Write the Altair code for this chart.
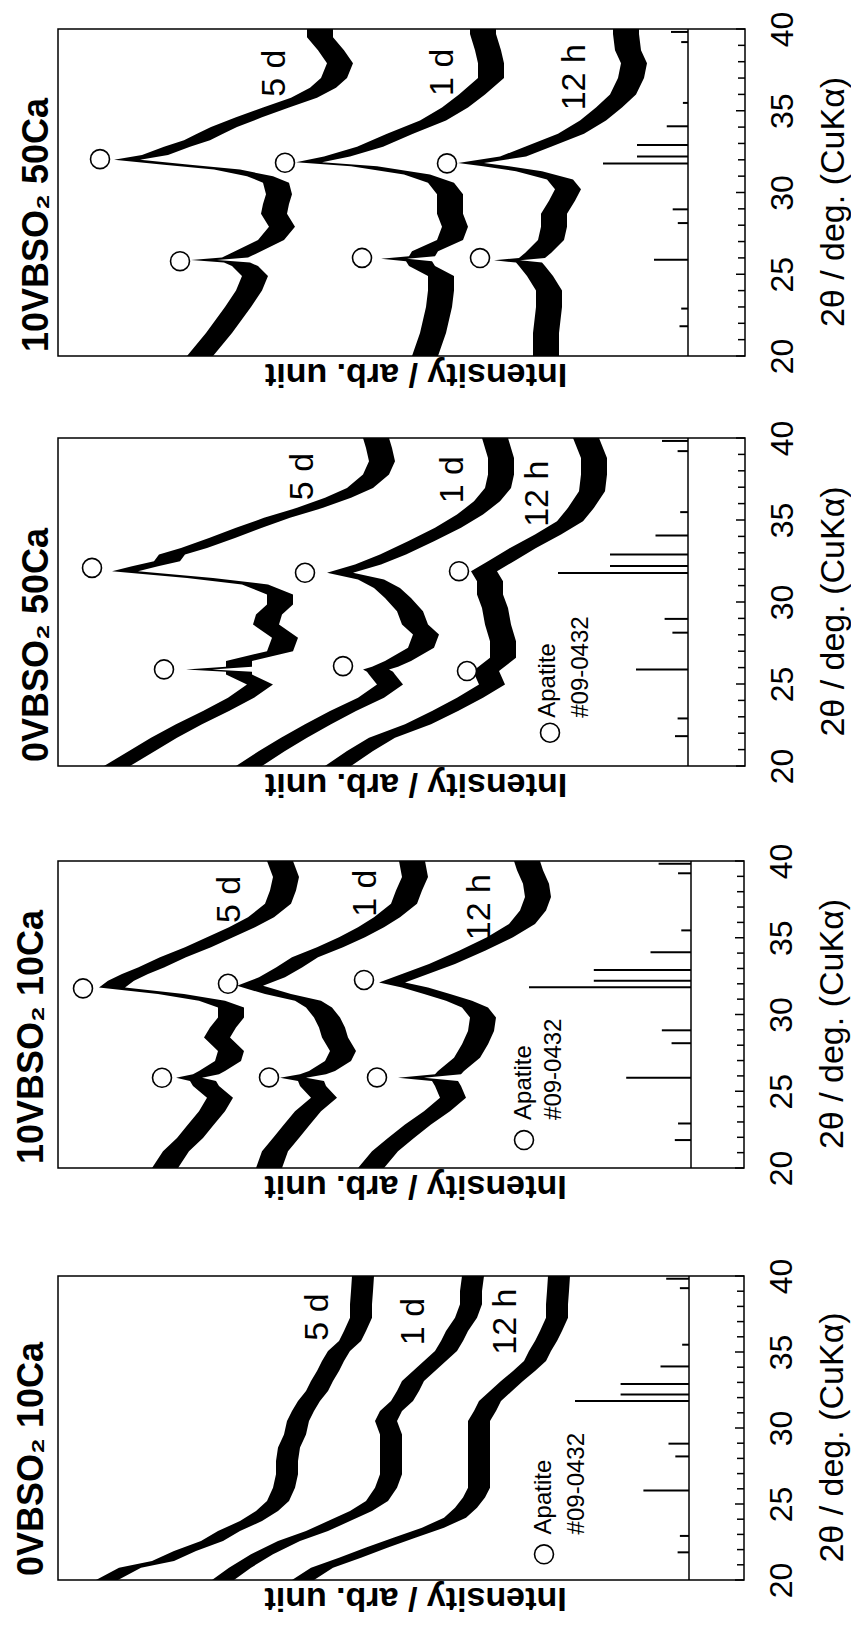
import altair as alt
import pandas as pd

FONT = "Liberation Sans"

# ---------------- panel texts (top to bottom in the rotated figure) ----------------
TITLES = ["10VBSO\u2082 50Ca", "0VBSO\u2082 50Ca", "10VBSO\u2082 10Ca", "0VBSO\u2082 10Ca"]
SERIES = ["5 d", "1 d", "12 h"]
Y_TITLE = "2\u03b8 / deg. (CuK\u03b1)"
X_TITLE = "Intensity / arb. unit"
TICK_LABELS = [20, 25, 30, 35, 40]

# ---------------- Apatite JCPDS #09-0432 reference lines ----------------
STICK_POS = [21.82, 22.90, 25.88, 28.13, 28.97, 31.77, 32.20, 32.90, 34.05, 35.48, 39.20, 39.82]
STICK_REL = [10, 8, 40, 12, 18, 100, 60, 60, 25, 6, 8, 20]
STICK_FULL = [85, 130, 162, 114]   # intensity of the 100 % line in each panel
STICK_BASE = [57, 57, 53, 55]      # intensity of the reference-pattern baseline
INT_MAX = [687, 687, 686, 686]     # intensity range of each panel (arb. unit)
NOISE = [13, 13, 13, 11]           # half amplitude of the noise band

# ---------------- panel 1 : 10VBSO2 50Ca ----------------
A_5D_T = [20.0, 21.4, 23.0, 24.0, 24.9, 25.5, 25.72, 25.87, 26.02, 27.1, 27.9, 28.7, 29.3, 29.9, 30.6, 31.0,
          31.4, 31.7, 32.0, 32.3, 32.8, 33.2, 33.6, 34.0, 34.6, 35.2, 35.8, 36.4, 37.0, 37.9, 38.7, 39.5, 40.0]
A_5D_I = [545, 526, 507, 496, 490, 500, 508, 541, 510, 474, 463, 471, 469, 466, 469, 485,
          518, 568, 618, 590, 568, 548, 535, 521, 496, 469, 441, 422, 411, 405, 414, 425, 425]
A_1D_T = [20.0, 21.4, 23.0, 24.0, 24.9, 25.5, 25.8, 25.95, 26.1, 26.4, 27.1, 27.9, 28.7, 29.3, 29.9, 30.6,
          31.1, 31.6, 31.85, 32.2, 32.8, 33.6, 34.4, 35.2, 36.0, 37.0, 37.9, 38.7, 39.7, 40.0]
A_1D_I = [320, 312, 306, 304, 304, 323, 326, 351, 323, 320, 295, 290, 295, 295, 295, 304,
          328, 381, 436, 408, 375, 345, 312, 290, 273, 254, 254, 257, 262, 262]
A_12H_T = [20.0, 21.4, 23.0, 24.0, 24.9, 25.5, 25.72, 25.85, 26.0, 26.3, 27.1, 27.9, 28.7, 29.5, 30.2, 30.8,
           31.3, 31.6, 31.8, 32.2, 32.8, 33.6, 34.4, 35.2, 36.0, 37.0, 37.9, 38.7, 39.7, 40.0]
A_12H_I = [199, 199, 196, 196, 205, 213, 216, 238, 213, 207, 194, 191, 191, 183, 177, 185,
           216, 249, 274, 232, 207, 174, 152, 136, 122, 114, 111, 117, 119, 119]
A_CIRC_T = [25.8, 32.04, 26.0, 31.82, 25.99, 31.78]
A_CIRC_I = [565, 645, 383, 460, 265, 298]
A_LAB_T = [37.3, 37.35, 37.05]
A_LAB_I = [470, 302, 170]

# ---------------- panel 2 : 0VBSO2 50Ca ----------------
B_5D_T = [20.0, 20.91, 21.73, 22.54, 23.35, 24.16, 24.97, 25.58, 25.74, 25.89, 26.05, 26.4, 27.0, 27.82, 28.63,
          29.24, 29.85, 30.46, 31.07, 31.47, 31.88, 32.18, 32.49, 32.89, 33.3, 33.91, 34.52, 35.13, 35.74,
          36.35, 36.95, 37.77, 38.58, 39.39, 40.0]
B_5D_I = [628, 603, 581, 556, 529, 504, 485, 506, 506, 546, 506, 506, 465, 460, 479,
          476, 465, 465, 490, 545, 620, 600, 578, 573, 551, 523, 496, 468, 435,
          407, 385, 369, 363, 366, 369]
B_1D_T = [20.0, 20.91, 21.73, 22.54, 23.35, 24.16, 24.97, 25.58, 25.74, 25.89, 26.05, 26.4, 27.21, 28.02, 28.63,
          29.44, 30.25, 30.86, 31.37, 31.78, 32.28, 32.89, 33.71, 34.52, 35.33, 36.14, 36.95, 37.77, 38.78, 40.0]
B_1D_I = [496, 473, 451, 427, 402, 374, 355, 363, 365, 369, 360, 347, 324, 319, 330,
          335, 347, 358, 374, 405, 377, 352, 324, 297, 275, 258, 247, 244, 244, 250]
B_12H_T = [20.0, 20.91, 21.73, 22.54, 23.35, 24.16, 24.97, 25.79, 26.6, 27.61, 28.63, 29.64, 30.46, 31.27,
           31.88, 32.49, 33.3, 34.11, 34.92, 35.74, 36.75, 37.77, 38.78, 40.0]
B_12H_I = [407, 385, 363, 327, 300, 275, 253, 259, 242, 242, 247, 250, 255, 255,
           261, 244, 222, 197, 175, 164, 153, 151, 151, 159]
B_CIRC_T = [25.89, 32.08, 26.09, 31.78, 25.79, 31.88]
B_CIRC_I = [581, 653, 402, 440, 278, 286]
B_LAB_T = [37.65, 37.46, 36.6]
B_LAB_I = [442, 292, 207]

# ---------------- panel 3 : 10VBSO2 10Ca ----------------
C_5D_T = [20.0, 21.09, 21.96, 22.83, 23.7, 24.58, 25.34, 25.66, 25.88, 26.1, 26.32, 26.97, 27.63, 28.5, 29.15,
          29.8, 30.46, 30.89, 31.33, 31.76, 32.2, 32.64, 33.07, 33.73, 34.38, 35.03, 35.69, 36.34, 37.21,
          38.08, 38.95, 40.0]
C_5D_I = [579, 568, 554, 543, 532, 524, 538, 541, 555, 538, 532, 516, 513, 527, 521,
          513, 513, 532, 573, 632, 623, 609, 593, 571, 546, 524, 502, 483, 466,
          461, 458, 464]
C_1D_T = [20.0, 21.09, 21.96, 22.83, 23.7, 24.58, 25.34, 25.66, 25.88, 26.1, 26.32, 26.97, 27.63, 28.5, 29.15,
          29.8, 30.46, 30.89, 31.33, 31.87, 32.42, 33.07, 33.73, 34.38, 35.03, 35.69, 36.34, 37.21, 38.08,
          38.95, 40.0]
C_1D_I = [475, 469, 458, 447, 436, 420, 431, 433, 451, 431, 422, 406, 401, 409, 412,
          417, 425, 436, 466, 494, 472, 455, 439, 414, 392, 373, 357, 340, 335,
          329, 332]
C_12H_T = [20.0, 21.09, 21.96, 22.83, 23.7, 24.58, 25.34, 25.66, 25.88, 26.1, 26.32, 27.19, 28.06, 28.93, 29.8,
           30.46, 30.89, 31.33, 31.76, 32.09, 32.64, 33.29, 34.16, 35.03, 35.9, 36.78, 37.65, 38.52, 39.39, 40.0]
C_12H_I = [373, 359, 343, 326, 307, 291, 296, 299, 333, 296, 293, 277, 269, 263, 261,
           269, 285, 307, 329, 352, 329, 302, 272, 244, 222, 211, 206, 208, 214, 217]
C_CIRC_T = [25.88, 31.7, 25.9, 32.0, 25.9, 32.25]
C_CIRC_I = [582, 661, 475, 516, 367, 380]
C_LAB_T = [37.5, 37.9, 37.0]
C_LAB_I = [514, 378, 264]

# ---------------- panel 4 : 0VBSO2 10Ca ----------------
D_5D_T = [20.0, 20.81, 21.25, 21.91, 22.57, 23.22, 23.88, 24.54, 25.2, 26.07, 26.95, 27.83, 28.71, 29.58,
          30.46, 31.12, 31.78, 32.43, 33.09, 33.75, 34.41, 35.07, 35.72, 36.38, 37.26, 38.14, 39.01, 40.0]
D_5D_I = [637, 614, 581, 559, 532, 515, 493, 477, 466, 460, 457, 457, 455, 449,
          446, 441, 435, 427, 422, 416, 411, 405, 394, 389, 383, 383, 382, 381]
D_1D_T = [20.0, 20.81, 21.69, 22.57, 23.22, 23.88, 24.54, 25.2, 26.07, 26.95, 27.83, 28.71, 29.58, 30.46,
          31.12, 31.78, 32.43, 33.09, 33.75, 34.41, 35.07, 35.72, 36.38, 37.26, 38.14, 39.01, 40.0]
D_1D_I = [521, 504, 482, 455, 427, 405, 383, 367, 358, 353, 353, 353, 353, 358,
          353, 342, 336, 331, 320, 309, 298, 292, 287, 278, 273, 273, 271]
D_12H_T = [20.0, 20.81, 21.47, 22.13, 22.79, 23.44, 24.1, 24.76, 25.42, 26.07, 26.95, 27.83, 28.71, 29.58,
           30.46, 31.12, 31.78, 32.43, 33.09, 33.75, 34.41, 35.07, 35.72, 36.38, 37.26, 38.14, 39.01, 40.0]
D_12H_I = [441, 422, 394, 367, 339, 311, 289, 278, 270, 265, 265, 265, 265, 265,
           265, 259, 254, 243, 232, 220, 209, 204, 198, 193, 187, 187, 186, 185]
D_CIRC_T = []
D_CIRC_I = []
D_LAB_T = [37.3, 37.0, 37.0]
D_LAB_I = [426, 330, 238]

# ---------------- "O Apatite #09-0432" key (panels 2-4) ----------------
KEY_CIRC_T = [None, 22.03, 21.82, 21.69]
KEY_CIRC_I = [None, 195, 220, 200]
KEY_TEXT_T = [None, 22.94, 23.13, 23.0]
KEY_LINE1_I = [None, 197, 220, 200]
KEY_LINE2_I = [None, 164, 190, 167]
KEY_LINE1 = "Apatite"
KEY_LINE2 = "#09-0432"

# ---------------- layout ----------------
PANEL_WIDTH = [687, 687, 686, 686]
PANEL_HEIGHT = [327, 328, 307, 304]
TITLE_OFFSET = [2, 2, 7, 7]
GAPS = [20, 33, 46]

CURVES = [
    [(A_5D_T, A_5D_I), (A_1D_T, A_1D_I), (A_12H_T, A_12H_I)],
    [(B_5D_T, B_5D_I), (B_1D_T, B_1D_I), (B_12H_T, B_12H_I)],
    [(C_5D_T, C_5D_I), (C_1D_T, C_1D_I), (C_12H_T, C_12H_I)],
    [(D_5D_T, D_5D_I), (D_1D_T, D_1D_I), (D_12H_T, D_12H_I)],
]
CIRCS = [(A_CIRC_T, A_CIRC_I), (B_CIRC_T, B_CIRC_I), (C_CIRC_T, C_CIRC_I), (D_CIRC_T, D_CIRC_I)]
LABELS = [(A_LAB_T, A_LAB_I), (B_LAB_T, B_LAB_I), (C_LAB_T, C_LAB_I), (D_LAB_T, D_LAB_I)]


def panel(k):
    w, h = PANEL_WIDTH[k], PANEL_HEIGHT[k]
    xs = alt.Scale(domain=[0, INT_MAX[k]], reverse=True, nice=False, zero=False)
    ys = alt.Scale(domain=[20, 40], nice=False, zero=False)
    yaxis = alt.Axis(orient="right", values=TICK_LABELS, ticks=False, domain=False, grid=False,
                     labelAngle=270, labelAlign="center", labelBaseline="top", labelPadding=22,
                     labelFontSize=32, labelFont=FONT, labelColor="black", labelFlush=False,
                     labelOverlap=False, title=Y_TITLE, titleAngle=270, titleBaseline="top",
                     titleFontSize=34, titleFont=FONT, titleFontWeight="normal", titleColor="black",
                     titlePadding=18, titleY=h / 2 + 9)
    xaxis = alt.Axis(labels=False, ticks=False, domain=False, grid=False, title=X_TITLE,
                     titleAngle=180, titleBaseline="bottom", titleFontSize=34, titleFont=FONT,
                     titleFontWeight="bold", titleColor="black", titlePadding=0, titleX=w / 2 + 14)

    def X(field):
        return alt.X(field, type="quantitative", scale=xs, axis=xaxis)

    def Y(field):
        return alt.Y(field, type="quantitative", scale=ys, axis=yaxis)

    # noise bands of the three patterns
    rows = []
    for name, (tt, ii) in zip(SERIES, CURVES[k]):
        for t, v in zip(tt, ii):
            rows.append({"series": name, "tth": t, "hi": v + NOISE[k], "lo": v - NOISE[k]})
    bands = alt.Chart(pd.DataFrame(rows)).mark_area(
        orient="horizontal", color="black", clip=True, strokeWidth=0
    ).encode(y=Y("tth"), x=X("hi"), x2="lo", detail="series:N")

    # axis ticks drawn inside the right frame edge
    tick_df = pd.DataFrame({"t": list(range(20, 41))})
    tick_df["major"] = tick_df["t"] % 5 == 0
    ticks_major = alt.Chart(tick_df[tick_df["major"]]).mark_rule(color="black", strokeWidth=1.5).encode(
        y=Y("t"), x=alt.value(w - 9), x2=alt.value(w))
    ticks_minor = alt.Chart(tick_df[~tick_df["major"]]).mark_rule(color="black", strokeWidth=1.5).encode(
        y=Y("t"), x=alt.value(w - 7), x2=alt.value(w))

    # reference pattern
    base_df = pd.DataFrame({"b": [STICK_BASE[k]]})
    base_rule = alt.Chart(base_df).mark_rule(color="black", strokeWidth=1.5).encode(x=X("b"))
    st = pd.DataFrame({"pos": STICK_POS, "rel": STICK_REL})
    st["b"] = STICK_BASE[k]
    st["top"] = STICK_BASE[k] + st["rel"] / 100 * STICK_FULL[k]
    sticks = alt.Chart(st).mark_rule(color="black", strokeWidth=2).encode(y=Y("pos"), x=X("b"), x2="top")

    layers = [ticks_major, ticks_minor, base_rule, sticks, bands]

    ct, ci = CIRCS[k]
    if ct:
        cdf = pd.DataFrame({"tth": ct, "inten": ci})
        layers.append(alt.Chart(cdf).mark_point(shape="circle", filled=True, fill="white", stroke="black",
                                                strokeWidth=1.6, size=360, opacity=1).encode(
            y=Y("tth"), x=X("inten")))

    lt, li = LABELS[k]
    ldf = pd.DataFrame({"tth": lt, "inten": li, "txt": SERIES})
    layers.append(alt.Chart(ldf).mark_text(angle=270, font=FONT, fontSize=34, color="black",
                                           align="center", baseline="middle").encode(
        y=Y("tth"), x=X("inten"), text="txt:N"))

    if KEY_CIRC_T[k] is not None:
        kc = pd.DataFrame({"tth": [KEY_CIRC_T[k]], "inten": [KEY_CIRC_I[k]]})
        layers.append(alt.Chart(kc).mark_point(shape="circle", filled=False, stroke="black",
                                               strokeWidth=1.6, size=360, opacity=1).encode(
            y=Y("tth"), x=X("inten")))
        kt = pd.DataFrame({"tth": [KEY_TEXT_T[k]] * 2, "inten": [KEY_LINE1_I[k], KEY_LINE2_I[k]],
                           "txt": [KEY_LINE1, KEY_LINE2]})
        layers.append(alt.Chart(kt).mark_text(angle=270, font=FONT, fontSize=24, color="black",
                                              align="left", baseline="middle").encode(
            y=Y("tth"), x=X("inten"), text="txt:N"))

    return alt.layer(*layers).properties(
        width=w, height=h,
        title=alt.TitleParams(text=TITLES[k], orient="left", anchor="start", frame="group", font=FONT,
                              fontSize=36, fontWeight="bold", color="black", offset=TITLE_OFFSET[k], dx=4),
    )


def spacer(hh):
    return alt.Chart(pd.DataFrame({"s": [0]})).mark_text(text="").encode(
        x=alt.value(0), y=alt.value(0)
    ).properties(width=10, height=hh, view=alt.ViewBackground(stroke="transparent"))


parts = []
for k in range(4):
    parts.append(panel(k))
    if k < 3:
        parts.append(spacer(GAPS[k]))

chart = alt.vconcat(*parts, spacing=0).configure(
    padding={"left": 13, "top": 10, "right": 0, "bottom": 12}, font=FONT
).configure_view(stroke="black", strokeWidth=1.5)

chart.save("out.html", embed_options={"renderer": "svg", "actions": False})
